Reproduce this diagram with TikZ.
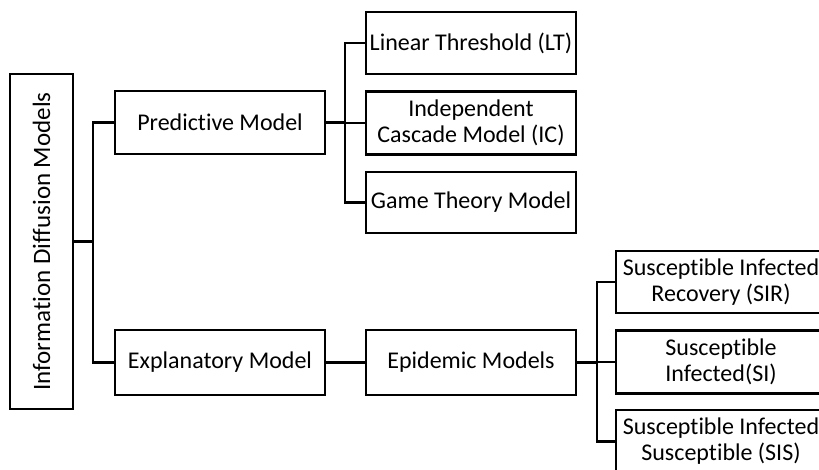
\documentclass[tikz,border=0pt]{standalone}
\usepackage{fontspec}
\setmainfont{Carlito}[Ligatures={NoCommon}, RawFeature={-liga;-clig;-dlig}]
\begin{document}
\begin{tikzpicture}[x=1pt,y=1pt,
  box/.style={draw=black, line width=2.3pt, fill=white, align=center, inner sep=2pt,
    minimum width=210pt, minimum height=63pt,
    font=\fontsize{24pt}{26pt}\selectfont},
  conn/.style={draw=black, line width=2.3pt}]
\clip (0,0) rectangle (819,470);
\useasboundingbox (0,0) rectangle (819,470);
\fill[white] (0,0) rectangle (819,470);
% nodes
\node[box, rotate=90, minimum width=335pt, minimum height=63pt, font=\fontsize{25pt}{27pt}\selectfont] (root) at (41.5,228.5) {Information Diffusion Models};
\node[box] (pm) at (220,347.5) {Predictive Model};
\node[box, minimum height=65pt] (em) at (220,107.5) {Explanatory Model};
\node[box, minimum height=65pt] (ep) at (471,107.5) {Epidemic Models};
\node[box, minimum height=62pt] (lt) at (471,427) {Linear Threshold (LT)};
\node[box] (ic) at (471,347) {Independent\\Cascade Model (IC)};
\node[box, minimum height=61pt] (gt) at (471,267.5) {Game Theory Model};
\node[box, minimum height=62pt] (sir) at (721,188) {Susceptible Infected\\Recovery (SIR)};
\node[box] (si) at (721,108) {Susceptible\\Infected(SI)};
\node[box] (sis) at (721,28.5) {Susceptible Infected\\Susceptible (SIS)};
% buses
\coordinate (b1) at (93,228.5);
\coordinate (b2) at (345,347.5);
\coordinate (b3) at (597,107.5);
\draw[conn] (root.south) -- (b1);
\draw[conn] (pm.west) -| (b1);
\draw[conn] (em.west) -| (b1);
\draw[conn] (pm.east) -- (b2);
\draw[conn] (lt.west) -| (b2);
\draw[conn] (ic.west) -| (b2);
\draw[conn] (gt.west) -| (b2);
\draw[conn] (em.east) -- (ep.west);
\draw[conn] (ep.east) -- (b3);
\draw[conn] (sir.west) -| (b3);
\draw[conn] (si.west) -| (b3);
\draw[conn] (sis.west) -| (b3);
\end{tikzpicture}
\end{document}
